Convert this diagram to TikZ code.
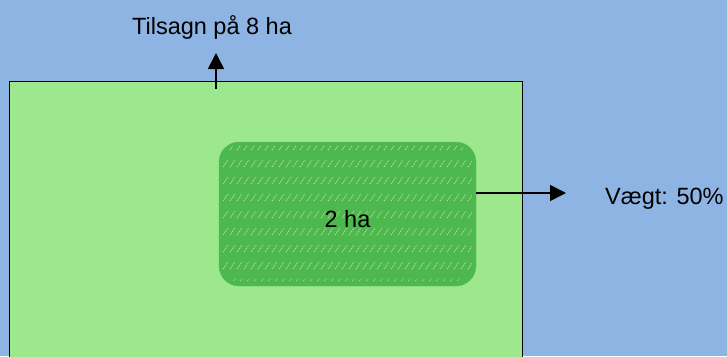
\documentclass[tikz,border=0pt]{standalone}
\usepackage{fontspec}
\setmainfont{Liberation Sans}
\usetikzlibrary{positioning, arrows.meta}
\definecolor{skyblue}{HTML}{8EB4E3}
\definecolor{fieldgreen}{HTML}{9DE78D}
\definecolor{plotgreen}{HTML}{4DB84E}
\definecolor{stripegreen}{HTML}{B4DD94}

\begin{document}
\begin{tikzpicture}[x=1pt, y=-1pt,
    parcel/.style={rectangle, draw, line width=0.8pt, fill=fieldgreen,
      anchor=north west, inner sep=0pt, minimum width=513.5pt, minimum height=300pt},
    subarea/.style={rectangle, rounded corners=20pt, draw=plotgreen!80!fieldgreen,
      fill=plotgreen, inner sep=0pt, minimum width=257pt, minimum height=144pt},
    stripe/.style={stripegreen, line width=1pt, dash pattern=on 1pt off 1pt},
    areatext/.style={font=\fontsize{23.5}{28}\selectfont, inner sep=0pt},
    arrow/.style={line width=1.6pt, -{Triangle[length=16pt, width=16pt]}}]

    % Baggrund
    \fill[skyblue] (0,0) rectangle (727,356);
    \clip (0,0) rectangle (727,356);

    % Marker
    \node[parcel] (parcel) at (8.5,81) {};
    \node[subarea] (subarea) at (347.5,214) {};

    % Skravering
    \begin{scope}
      \clip[rounded corners=14pt] ([xshift=4pt, yshift=-4pt]subarea.north west)
        rectangle ([xshift=-4pt, yshift=5pt]subarea.south east);
      \foreach \row in {0,...,8}{
        \foreach \col in {0,...,35}{
          \draw[stripe] ({223+7*\col}, {150+17*\row}) -- ++(5,-7);
        }
      }
    \end{scope}
    \node[areatext, yshift=-5.5pt] (size) at (subarea) {2 ha};

    % Pile
    \coordinate (commitstart) at (216,89);
    \coordinate (commitend) at (216,53);
    \coordinate (weightstart) at ([yshift=21pt]subarea.east);
    \coordinate (weightend) at (566,193);
    \draw[arrow] (commitstart) -- (commitend);
    \draw[arrow] (weightstart) -- (weightend);

    % Tekster
    \node[areatext, above=13pt of commitend, xshift=-4pt] (commit) {Tilsagn på 8 ha};
    \node[areatext, right=39pt of weightend, yshift=-6pt] (weight) {Vægt: 50\%};
  \end{tikzpicture}
\end{document}
